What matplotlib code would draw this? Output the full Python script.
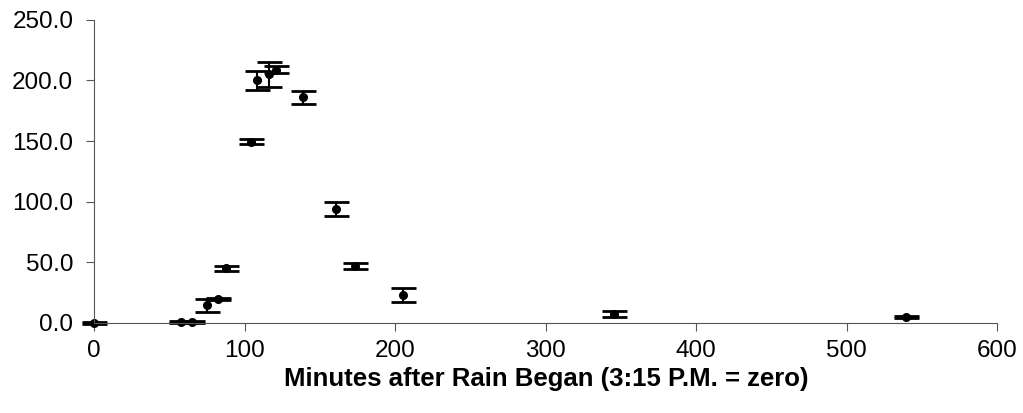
import matplotlib
matplotlib.use("Agg")
import matplotlib.pyplot as plt
from matplotlib.ticker import FormatStrFormatter

plt.rcParams["font.family"] = ["Liberation Sans", "DejaVu Sans"]

# minutes after rain began, measured value, error (+/-)
minutes = [0, 58, 65, 75, 82, 87.5, 104, 108.5, 116, 120.5, 139, 160.5, 173.5, 205, 345, 539.5]
values = [0.0, 0.5, 1.0, 14.6, 19.8, 45.0, 149.5, 200.0, 205.0, 209.0, 186.0, 94.0, 47.0, 23.0, 7.7, 5.0]
errors = [0.5, 0.8, 0.8, 5.5, 1.2, 2.0, 2.0, 8.0, 10.5, 3.0, 5.5, 5.5, 2.5, 5.5, 2.5, 1.0]


def main():
    fig = plt.figure(figsize=(10.23, 4.13), dpi=100)
    ax = fig.add_axes([0.092, 0.218, 0.883, 0.734])

    markers, caps, bars = ax.errorbar(minutes, values, yerr=errors, fmt="o", color="black",
                                      markersize=5.5, elinewidth=1.5, capsize=9, capthick=2)
    # let the point at x=0 show over the axis edge
    markers.set_clip_on(False)
    for c in caps:
        c.set_clip_on(False)
    for b in bars:
        b.set_clip_on(False)

    ax.set_xlim(0, 600)
    ax.set_ylim(0, 250)
    ax.set_xticks(range(0, 601, 100))
    ax.set_yticks(range(0, 251, 50))
    ax.yaxis.set_major_formatter(FormatStrFormatter("%.1f"))
    ax.tick_params(axis="both", labelsize=17.5, direction="out", length=6, color="#555555")
    ax.tick_params(axis="x", pad=6)
    ax.tick_params(axis="y", pad=9)

    for side in ("top", "right"):
        ax.spines[side].set_visible(False)
    for side in ("left", "bottom"):
        ax.spines[side].set_color("#555555")

    ax.set_xlabel("Minutes after Rain Began (3:15 P.M. = zero)", fontsize=18.5,
                  fontweight="bold", labelpad=4)

    fig.savefig("out.png", dpi=100)
    plt.close(fig)


if __name__ == "__main__":
    main()
